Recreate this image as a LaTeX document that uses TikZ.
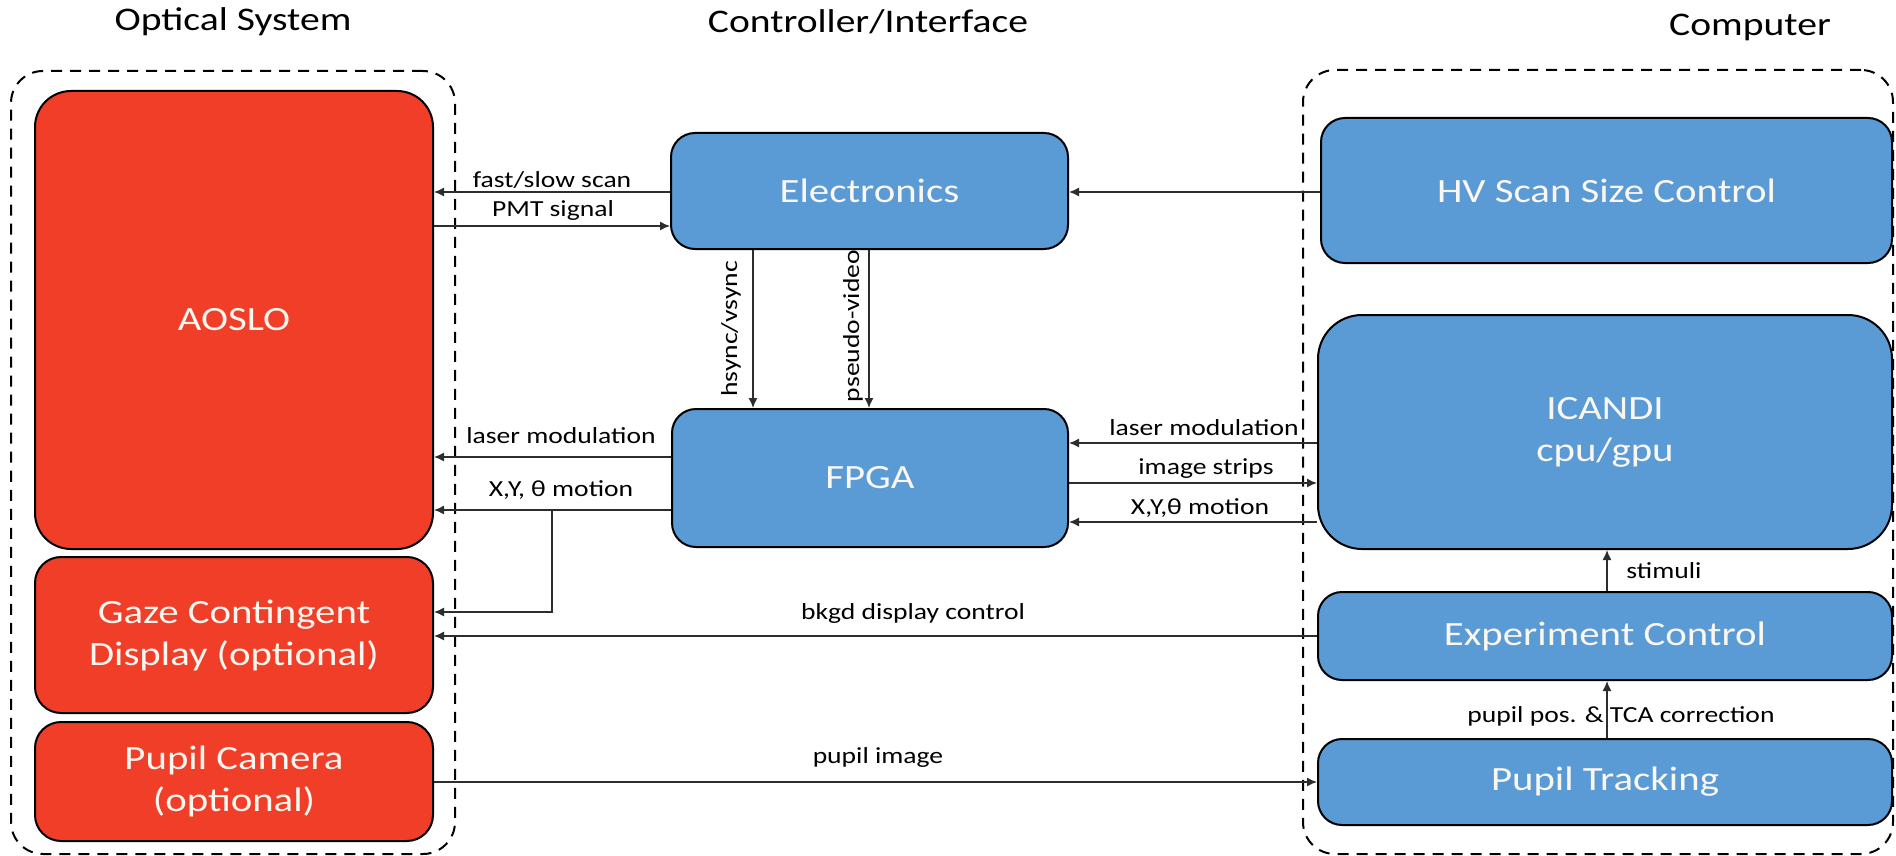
\documentclass[tikz,border=0pt]{standalone}
\usepackage{fontspec}
\setmainfont{Carlito}[FakeStretch=1.2]
\usetikzlibrary{arrows.meta}
\definecolor{redbox}{RGB}{240,62,40}
\definecolor{bluebox}{RGB}{91,155,213}
\definecolor{connc}{RGB}{45,45,45}
\definecolor{boxtext}{RGB}{250,246,240}
\begin{document}
\begin{tikzpicture}[x=0.5pt,y=-0.5pt,
  redb/.style={draw=black, line width=1pt, fill=redbox, text=boxtext, rounded corners=13pt, inner sep=0pt, align=center, font=\fontsize{17}{21}\selectfont},
  blueb/.style={draw=black, line width=1pt, fill=bluebox, text=boxtext, rounded corners=12pt, inner sep=0pt, align=center, font=\fontsize{17}{21}\selectfont},
  grp/.style={draw=black, line width=1pt, dash pattern=on 5.5pt off 4pt, rounded corners=16pt, inner sep=0pt},
  conn/.style={draw=connc, line width=0.7pt, -{Latex[length=5pt,width=4.5pt]}},
  lbl/.style={font=\fontsize{11.5}{13}\selectfont, inner sep=0pt, text=black},
  ttl/.style={font=\fontsize{16.5}{20}\selectfont, inner sep=0pt}]
\useasboundingbox (0,0) rectangle (1896,856);

% titles
\node[ttl] (t1) at (233,22) {Optical System};
\node[ttl] (t2) at (868,22) {Controller/Interface};
\node[ttl] (t3) at (1750,27) {Computer};

% groups
\node[grp, minimum width=222pt, minimum height=391.5pt] (gleft) at (233,462.5) {};
\node[grp, minimum width=295pt, minimum height=392pt] (gright) at (1598,462) {};

% optical system
\node[redb, rounded corners=18pt, minimum width=199pt, minimum height=229pt] (aoslo) at (234,320) {AOSLO};
\node[redb, minimum width=199pt, minimum height=78pt] (gaze) at (234,635) {Gaze Contingent\\Display (optional)};
\node[redb, minimum width=199pt, minimum height=59.5pt] (pcam) at (234,781.5) {Pupil Camera\\(optional)};

% controller
\node[blueb, minimum width=198.5pt, minimum height=58pt] (elec) at (869.5,191) {Electronics};
\node[blueb, minimum width=198pt, minimum height=69pt] (fpga) at (870,478) {FPGA};

% computer
\node[blueb, minimum width=285.5pt, minimum height=72.5pt] (hv) at (1606.5,190.5) {HV Scan Size Control};
\node[blueb, rounded corners=22pt, minimum width=287pt, minimum height=117pt] (icandi) at (1605,432) {ICANDI\\cpu/gpu};
\node[blueb, minimum width=287pt, minimum height=44pt] (expc) at (1605,636) {Experiment Control};
\node[blueb, minimum width=287pt, minimum height=43pt] (ptrack) at (1605,782) {Pupil Tracking};

% connectors
\draw[conn] (hv.west |- 0,192) -- (elec.east |- 0,192);
\draw[conn] (elec.west |- 0,192) -- (aoslo.east |- 0,192);
\draw[conn] (aoslo.east |- 0,226) -- (elec.west |- 0,226);
\draw[conn] (elec.south -| 753,0) -- (fpga.north -| 753,0);
\draw[conn] (elec.south -| 869,0) -- (fpga.north -| 869,0);
\draw[conn] (fpga.west |- 0,457) -- (aoslo.east |- 0,457);
\draw[conn] (fpga.west |- 0,510) -- (aoslo.east |- 0,510);
\coordinate (split) at (552,510);
\draw[conn] (split) -- (552,612) -- (gaze.east |- 0,612);
\draw[conn] (expc.west |- 0,636) -- (gaze.east |- 0,636);
\draw[conn] (pcam.east |- 0,782) -- (ptrack.west |- 0,782);
\draw[conn] (icandi.west |- 0,443) -- (fpga.east |- 0,443);
\draw[conn] (fpga.east |- 0,483) -- (icandi.west |- 0,483);
\draw[conn] (icandi.west |- 0,522) -- (fpga.east |- 0,522);
\draw[conn] (expc.north -| 1607,0) -- (icandi.south -| 1607,0);
\draw[conn] (ptrack.north -| 1607,0) -- (expc.south -| 1607,0);

% labels
\node[lbl] (l1) at (552,180) {fast/slow scan};
\node[lbl] (l2) at (553,210) {PMT signal};
\node[lbl, rotate=90] (l3) at (731,329) {hsync/vsync};
\node[lbl, rotate=90] (l4) at (853,326) {pseudo-video};
\node[lbl] (l5) at (561,436) {laser modulation};
\node[lbl] (l6) at (561,490) {X,Y, θ motion};
\node[lbl] (l7) at (1204,428) {laser modulation};
\node[lbl] (l8) at (1206,469) {image strips};
\node[lbl] (l9) at (1200,508) {X,Y,θ motion};
\node[lbl] (l10) at (1664,571) {stimuli};
\node[lbl] (l11) at (1621,716) {pupil pos. \& TCA correction};
\node[lbl] (l12) at (913,613) {bkgd display control};
\node[lbl] (l13) at (878,757) {pupil image};
\end{tikzpicture}
\end{document}
